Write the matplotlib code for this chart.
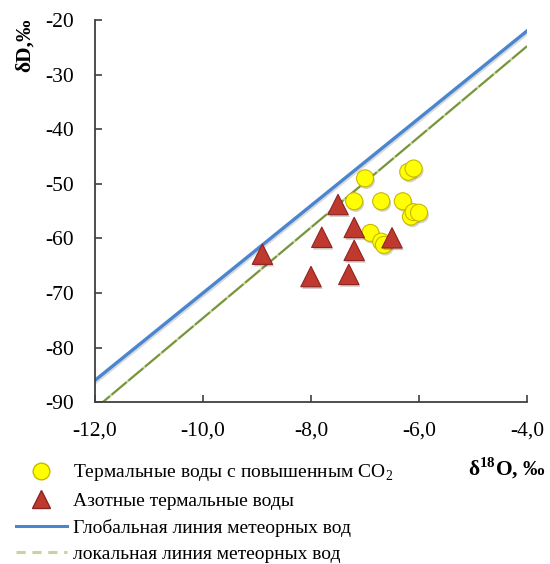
import matplotlib
matplotlib.use('Agg')
import matplotlib.pyplot as plt
from matplotlib.lines import Line2D
from matplotlib.ticker import FuncFormatter, MultipleLocator
import matplotlib.patheffects as pe
import numpy as np

plt.rcParams['font.family'] = ['Liberation Serif', 'DejaVu Serif']
plt.rcParams['mathtext.fontset'] = 'custom'
plt.rcParams['mathtext.rm'] = 'Liberation Serif'
plt.rcParams['mathtext.bf'] = 'Liberation Serif:bold'

# thermal waters with elevated CO2
co2_o18 = [-7.0, -7.2, -6.7, -6.3, -6.2, -6.1, -6.15, -6.1, -6.0, -6.9, -6.7, -6.65]
co2_d = [-49.0, -53.2, -53.2, -53.2, -47.8, -47.2, -56.0, -55.2, -55.3, -59.0, -60.6, -61.2]

# nitrogen thermal waters
n2_o18 = [-8.9, -7.5, -7.8, -7.2, -7.2, -6.5, -8.0, -7.3]
n2_d = [-62.9, -53.8, -59.8, -58.0, -62.2, -59.9, -67.0, -66.6]

# meteoric water lines: dD = slope * d18O + intercept
gmwl = (8.0, 10.0)
lmwl = (8.3, 8.4)

labels = ['Термальные воды с повышенным CO$_2$',
          'Азотные термальные воды',
          'Глобальная линия метеорных вод',
          'локальная линия метеорных вод']

fig = plt.figure(figsize=(5.5, 5.64), dpi=100)
ax = fig.add_axes([0.1727, 0.287, 0.7855, 0.6775])

xs = np.array([-12.0, -4.0])
shadow = [pe.SimpleLineShadow(offset=(1, -1), alpha=0.15), pe.Normal()]
ax.plot(xs, gmwl[0] * xs + gmwl[1], color='#4a86d0', lw=2.4, zorder=2,
        path_effects=shadow)
ax.plot(xs, lmwl[0] * xs + lmwl[1], color='#c4d6a0', lw=1.8, zorder=2)
ax.plot(xs, lmwl[0] * xs + lmwl[1], color='#77933c', lw=1.4, zorder=2,
        dashes=(10, 1.2))

mshadow = [pe.SimplePatchShadow(offset=(1, -1.5), alpha=0.25), pe.Normal()]
ax.scatter(co2_o18, co2_d, s=150, marker='o', color='#ffff00',
           edgecolor='#c9b800', linewidth=0.8, zorder=3, path_effects=mshadow)
ax.scatter(n2_o18, n2_d, s=215, marker='^', color='#c0392f',
           edgecolor='#8e2420', linewidth=0.8, zorder=4, path_effects=mshadow)

ax.set_xlim(-12, -4)
ax.set_ylim(-90, -20)
ax.xaxis.set_major_locator(MultipleLocator(2))
ax.yaxis.set_major_locator(MultipleLocator(10))
ax.xaxis.set_major_formatter(FuncFormatter(lambda v, p: ('%.1f' % v).replace('.', ',')))
ax.yaxis.set_major_formatter(FuncFormatter(lambda v, p: '%d' % v))

for s in ['top', 'right']:
    ax.spines[s].set_visible(False)
for s in ['left', 'bottom']:
    ax.spines[s].set_color('#404040')
    ax.spines[s].set_linewidth(1.3)
ax.tick_params(direction='in', length=5, width=1.2, color='#404040',
               labelsize=15.5, labelcolor='black',
               labelfontfamily='Liberation Serif')
ax.tick_params(axis='x', pad=14)
ax.tick_params(axis='y', pad=15)

fig.text(0.045, 0.919, 'δD,‰', rotation=90, fontsize=15.5, fontweight='bold',
         ha='center', va='center')
fig.text(0.992, 0.170, r'δ$^{\mathbf{18}}$O, ‰', fontsize=15.5, fontweight='bold',
         ha='right', va='center')

handles = [
    Line2D([], [], ls='none', marker='o', markersize=12, color='#ffff00',
           markeredgecolor='#c9b800'),
    Line2D([], [], ls='none', marker='^', markersize=13, color='#c0392f',
           markeredgecolor='#8e2420'),
    Line2D([], [], color='#4a86d0', lw=2.2),
    Line2D([], [], color='#c4d6a0', lw=2.2, dashes=(3, 2.2)),
]
fig.legend(handles, labels, loc='upper left', bbox_to_anchor=(0.029, 0.180),
           frameon=False, fontsize=14, handlelength=2.6, handletextpad=0.35,
           labelspacing=0.45, borderpad=0, borderaxespad=0)

fig.savefig('out.png', dpi=100)
